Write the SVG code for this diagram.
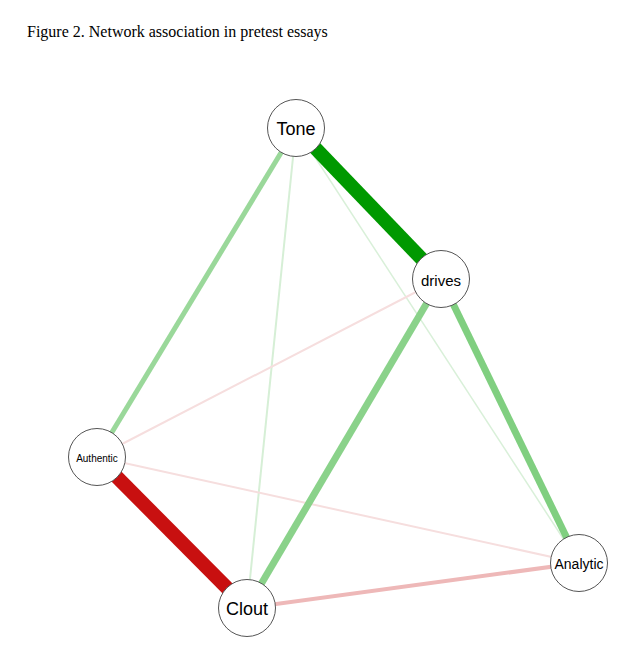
<svg xmlns="http://www.w3.org/2000/svg" width="643" height="668" viewBox="0 0 643 668">
<style>
.node circle{fill:#fff;stroke:#555;stroke-width:1}
.node text{font-family:"Liberation Sans",Arial,sans-serif;text-anchor:middle;dominant-baseline:central;fill:#000}
.edge{fill:none;stroke-linecap:butt}
</style>
<rect width="643" height="668" fill="#fff"/>
<text x="27" y="37" font-family="'Liberation Serif','Times New Roman',serif" font-size="16" fill="#000">Figure 2. Network association in pretest essays</text>
<g id="connectors">
<line class="edge" x1="296" y1="128" x2="579" y2="563" stroke="#d9f0d9" stroke-width="1.5"/>
<line class="edge" x1="296" y1="128" x2="247" y2="608" stroke="#d6efd6" stroke-width="2"/>
<line class="edge" x1="441" y1="279" x2="97" y2="457" stroke="#f6dede" stroke-width="2"/>
<line class="edge" x1="97" y1="457" x2="579" y2="563" stroke="#f6dede" stroke-width="2"/>
<line class="edge" x1="247" y1="608" x2="579" y2="563" stroke="#eeb8b8" stroke-width="4"/>
<line class="edge" x1="296" y1="128" x2="97" y2="457" stroke="#9ad89a" stroke-width="5"/>
<line class="edge" x1="441" y1="279" x2="247" y2="608" stroke="#8ad28a" stroke-width="7"/>
<line class="edge" x1="441" y1="279" x2="579" y2="563" stroke="#80cf80" stroke-width="7"/>
<line class="edge" x1="296" y1="128" x2="441" y2="279" stroke="#009900" stroke-width="14"/>
<line class="edge" x1="97" y1="457" x2="247" y2="608" stroke="#c81010" stroke-width="14"/>
</g>
<g id="node-tone" class="node"><circle cx="296" cy="128" r="28.5"/><text x="296" y="129" font-size="18">Tone</text></g>
<g id="node-drives" class="node"><circle cx="441" cy="279" r="28.5"/><text x="441" y="280" font-size="15">drives</text></g>
<g id="node-authentic" class="node"><circle cx="97" cy="457" r="28.5"/><text x="97" y="458" font-size="10" fill="#333">Authentic</text></g>
<g id="node-clout" class="node"><circle cx="247" cy="608" r="28.5"/><text x="247" y="609" font-size="18">Clout</text></g>
<g id="node-analytic" class="node"><circle cx="579" cy="563" r="28.5"/><text x="579" y="564" font-size="14">Analytic</text></g>
</svg>
